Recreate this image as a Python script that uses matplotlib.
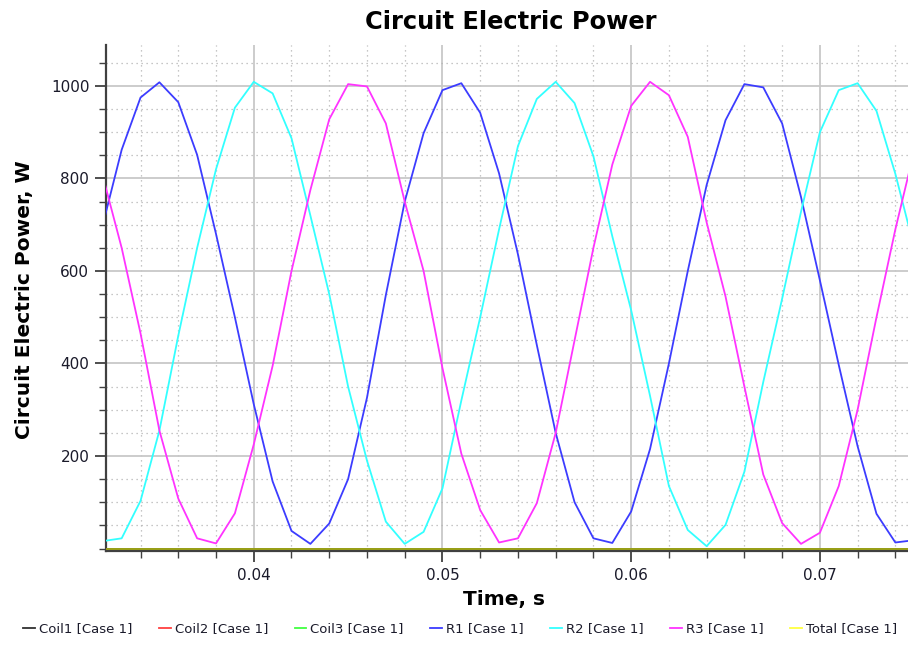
import matplotlib
matplotlib.use("Agg")
import matplotlib.pyplot as plt
from matplotlib.ticker import MultipleLocator, FixedLocator

# ---- data ----
time_s = [0.032, 0.033, 0.034, 0.035, 0.036, 0.037, 0.038, 0.039, 0.040, 0.041,
          0.042, 0.043, 0.044, 0.045, 0.046, 0.047, 0.048, 0.049, 0.050, 0.051,
          0.052, 0.053, 0.054, 0.055, 0.056, 0.057, 0.058, 0.059, 0.060, 0.061,
          0.062, 0.063, 0.064, 0.065, 0.066, 0.067, 0.068, 0.069, 0.070, 0.071,
          0.072, 0.073, 0.074, 0.075]

r1 = [700, 862, 975, 1008, 965, 851, 680, 500, 312, 145,
      38, 10, 54, 150, 326, 548, 750, 898, 991, 1006,
      942, 811, 636, 440, 250, 100, 22, 12, 80, 215,
      400, 600, 786, 926, 1004, 997, 919, 760, 580, 397,
      221, 75, 13, 18]

r2 = [16, 22, 103, 255, 460, 650, 820, 953, 1009, 984,
      887, 720, 550, 350, 190, 58, 10, 36, 130, 320,
      500, 690, 870, 972, 1009, 963, 848, 675, 515, 330,
      135, 40, 5, 51, 166, 360, 540, 728, 900, 991,
      1006, 946, 810, 650]

r3 = [805, 650, 465, 255, 108, 22, 11, 76, 225, 395,
      600, 775, 928, 1004, 999, 919, 750, 600, 390, 205,
      83, 13, 22, 98, 250, 450, 650, 830, 957, 1009,
      980, 890, 705, 545, 350, 160, 55, 10, 34, 135,
      300, 500, 690, 860]

zero = [0] * len(time_s)
coil1 = zero
coil2 = zero
coil3 = zero
total = zero

labels = ["Coil1 [Case 1]", "Coil2 [Case 1]", "Coil3 [Case 1]", "R1 [Case 1]",
          "R2 [Case 1]", "R3 [Case 1]", "Total [Case 1]"]
colors = ["#303030", "#ff4040", "#40ff40", "#3c3cff", "#33ffff", "#ff33ff", "#ffff40"]

x_major = [0.04, 0.05, 0.06, 0.07]
y_major = [200, 400, 600, 800, 1000]

# ---- figure ----
W, H = 908, 645
fig = plt.figure(figsize=(W / 100, H / 100), dpi=100)
ax = fig.add_axes([106 / W, (H - 551) / H, 1 - 106 / W, (551 - 45) / H])

lw = 1.3
h_coil1, = ax.plot(time_s, coil1, color=colors[0], lw=lw, zorder=3)
h_coil2, = ax.plot(time_s, coil2, color=colors[1], lw=lw, zorder=2)
h_coil3, = ax.plot(time_s, coil3, color=colors[2], lw=lw, zorder=2)
h_r1, = ax.plot(time_s, r1, color=colors[3], lw=lw, zorder=4)
h_r2, = ax.plot(time_s, r2, color=colors[4], lw=lw, zorder=4)
h_r3, = ax.plot(time_s, r3, color=colors[5], lw=lw, zorder=4)
h_tot, = ax.plot(time_s, total, color="#ffff00", lw=lw, alpha=0.55, zorder=5)

ax.set_xlim(0.03217, 0.07467)
ax.set_ylim(-5.4, 1088.6)

ax.xaxis.set_major_locator(FixedLocator(x_major))
ax.xaxis.set_minor_locator(MultipleLocator(0.002))
ax.yaxis.set_major_locator(FixedLocator(y_major))
ax.yaxis.set_minor_locator(MultipleLocator(50))
ax.set_xticklabels([f"{v:.2f}" for v in x_major])
ax.set_yticklabels([str(v) for v in y_major])

ax.grid(which="major", color="#c8c8c8", lw=1.3, ls="-", zorder=0)
ax.grid(which="minor", color="#b4b4b4", lw=0.9, ls=(0, (1, 3)), zorder=0)
ax.set_axisbelow(True)

for s in ("top", "right"):
    ax.spines[s].set_visible(False)
for s in ("left", "bottom"):
    ax.spines[s].set_color("#404040")
    ax.spines[s].set_linewidth(1.6)

ax.tick_params(which="major", length=8, width=1.3, color="#404040",
               labelsize=11, labelcolor="#1a1a2a", pad=4)
ax.tick_params(which="minor", length=5, width=1.0, color="#404040")

fig.text(511 / W, 1 - 22 / H, "Circuit Electric Power", ha="center", va="center",
         fontsize=17.4, fontweight="bold")
fig.text(25 / W, 1 - 300 / H, "Circuit Electric Power, W", ha="center", va="center",
         rotation=90, fontsize=14.5, fontweight="bold")
fig.text(504 / W, 1 - 600 / H, "Time, s", ha="center", va="center",
         fontsize=14.5, fontweight="bold")

handles = [h_coil1, h_coil2, h_coil3, h_r1, h_r2, h_r3, h_tot]
leg = fig.legend(handles, labels, loc="center", bbox_to_anchor=(460 / W, 1 - 629 / H),
                 ncol=7, frameon=False, fontsize=9.5, handlelength=0.9,
                 handletextpad=0.3, columnspacing=2.0)
for lh, c in zip(leg.legend_handles, colors):
    lh.set_color(c)
    lh.set_alpha(1)
for t in leg.get_texts():
    t.set_color("#1a1a2a")

fig.savefig("out.png", dpi=100)
